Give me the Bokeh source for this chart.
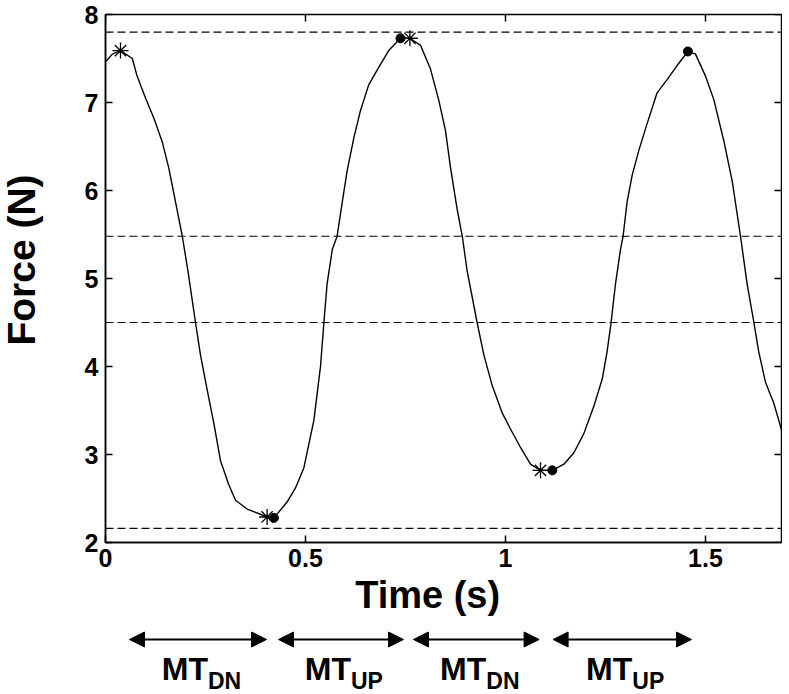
import math
from bokeh.plotting import figure
from bokeh.models import Range1d, Span, Arrow, NormalHead, FixedTicker, Label
from bokeh.layouts import column, row
from bokeh.embed import file_html
from bokeh.resources import INLINE
from bokeh.core.properties import value

# ---- data ----
time_s = [0.0, 0.017, 0.0375, 0.067, 0.079, 0.100, 0.121, 0.142, 0.158, 0.175,
          0.192, 0.206, 0.225, 0.2375, 0.254, 0.271, 0.2875, 0.308, 0.325, 0.354,
          0.404, 0.421, 0.454, 0.475, 0.496, 0.521, 0.5375, 0.546, 0.554, 0.567,
          0.579, 0.592, 0.604, 0.621, 0.6375, 0.658, 0.683, 0.708, 0.7375, 0.761,
          0.7875, 0.8125, 0.833, 0.85, 0.8625, 0.879, 0.892, 0.904, 0.929, 0.946,
          0.967, 0.992, 1.0125, 1.0375, 1.0625, 1.0875, 1.117, 1.146, 1.171, 1.196,
          1.221, 1.242, 1.254, 1.264, 1.275, 1.2875, 1.294, 1.304, 1.317, 1.333,
          1.354, 1.379, 1.404, 1.429, 1.456, 1.475, 1.5, 1.521, 1.546, 1.567,
          1.5875, 1.604, 1.621, 1.633, 1.65, 1.671, 1.69]
force_n = [7.46, 7.55, 7.59, 7.50, 7.30, 7.05, 6.82, 6.55, 6.26, 5.87,
           5.48, 5.09, 4.50, 4.13, 3.74, 3.35, 2.93, 2.66, 2.48, 2.38,
           2.29, 2.28, 2.46, 2.62, 2.85, 3.39, 4.00, 4.50, 4.94, 5.33,
           5.48, 5.87, 6.22, 6.60, 6.91, 7.20, 7.40, 7.59, 7.73, 7.73,
           7.65, 7.38, 7.03, 6.68, 6.26, 5.79, 5.48, 5.09, 4.50, 4.13,
           3.78, 3.47, 3.29, 3.08, 2.89, 2.82, 2.82, 2.89, 3.02, 3.24,
           3.55, 3.86, 4.17, 4.50, 4.94, 5.33, 5.48, 5.87, 6.18, 6.45,
           6.76, 7.11, 7.26, 7.42, 7.58, 7.55, 7.30, 7.03, 6.56, 6.10,
           5.48, 4.94, 4.50, 4.17, 3.82, 3.58, 3.28]

star_t = [0.0375, 0.404, 0.761, 1.0875]
star_f = [7.59, 2.29, 7.73, 2.82]
dot_t = [0.421, 0.7375, 1.117, 1.456]
dot_f = [2.28, 7.73, 2.82, 7.58]

ref_levels = [7.8, 5.48, 4.5, 2.16]

x_ticks = [0, 0.5, 1, 1.5]
x_tick_labels = ["0", "0.5", "1", "1.5"]
y_ticks = [2, 3, 4, 5, 6, 7, 8]

phase_start = [0.06, 0.4325, 0.77, 1.119]
phase_end = [0.4025, 0.745, 1.084, 1.465]
phase_main = ["MT", "MT", "MT", "MT"]
phase_sub = ["DN", "UP", "DN", "UP"]

FONT = "Liberation Sans"
NB = "\u00a0"
LW = 60          # width of the strip holding the y-axis title
W = 782
X0, X1 = 0, 1.69
Y0, Y1 = 2, 8

# ---- y-axis title strip ----
lt = figure(width=LW, height=622, x_range=Range1d(0, 1), y_range=Range1d(0, 1),
            output_backend="svg", toolbar_location=None,
            x_axis_location=None, y_axis_location=None,
            min_border_left=0, min_border_right=0, min_border_top=0, min_border_bottom=0)
lt.grid.visible = False
lt.outline_line_color = None
lt.add_layout(Label(x=0.347, y=0.535, text="Force (N)", angle=math.pi / 2,
                    text_align="center", text_baseline="alphabetic",
                    text_font=FONT, text_font_size="39px", text_font_style="bold",
                    text_color="black"))

# ---- main plot ----
p = figure(width=W - LW, height=622, x_range=Range1d(X0, X1), y_range=Range1d(Y0, Y1),
           output_backend="svg", toolbar_location=None,
           min_border_left=105 - LW, min_border_right=1, min_border_top=14, min_border_bottom=80)
p.background_fill_color = "white"
p.border_fill_color = "white"
p.grid.visible = False
p.outline_line_color = "black"
p.outline_line_width = 1.5

p.xaxis.ticker = FixedTicker(ticks=x_ticks)
p.xaxis.major_label_overrides = dict(zip(x_ticks, x_tick_labels))
p.yaxis.ticker = FixedTicker(ticks=y_ticks)
p.xaxis.axis_label = "Time (s)" + NB * 3
for ax in (p.xaxis[0], p.yaxis[0]):
    ax.major_tick_in = 7
    ax.major_tick_out = 0
    ax.minor_tick_line_color = None
    ax.axis_line_width = 1.5
    ax.major_tick_line_width = 1.5
    ax.major_label_text_font = FONT
    ax.major_label_text_font_size = "25px"
    ax.major_label_text_font_style = "bold"
    ax.major_label_text_color = "black"
    ax.axis_label_text_font = FONT
    ax.axis_label_text_font_style = "bold"
    ax.axis_label_text_color = "black"
p.yaxis.major_label_standoff = 7
p.xaxis.major_label_standoff = 6
p.xaxis.axis_label_text_font_size = "38px"
p.xaxis.axis_label_standoff = 4

# inward ticks on the right and top edges (half of each dash is clipped by the frame)
p.scatter([X1] * len(y_ticks), y_ticks, marker="dash", size=14, line_color="black", line_width=1.5)
p.scatter(x_ticks, [Y1] * len(x_ticks), marker="dash", angle=1.5708, size=14,
          line_color="black", line_width=1.5)

for lv in ref_levels:
    p.add_layout(Span(location=lv, dimension="width", line_color="black",
                      line_width=1.2, line_dash="8 4"))

p.line(time_s, force_n, line_color="black", line_width=1.4)
p.scatter(star_t, star_f, marker="asterisk", size=16, line_color="black", line_width=1.3)
p.scatter(dot_t, dot_f, marker="circle", size=9, fill_color="black", line_color="black")

# ---- phase arrows below ----
b = figure(width=W, height=72, x_range=p.x_range, y_range=Range1d(0, 1),
           output_backend="svg", toolbar_location=None,
           x_axis_location=None, y_axis_location=None,
           min_border_left=105, min_border_right=1, min_border_top=0, min_border_bottom=0)
b.grid.visible = False
b.outline_line_color = None
b.background_fill_color = "white"
b.border_fill_color = "white"

ARROW_Y = 0.764
for s, e in zip(phase_start, phase_end):
    b.add_layout(Arrow(x_start=s, y_start=ARROW_Y, x_end=e, y_end=ARROW_Y, line_width=2,
                       line_color="black",
                       start=NormalHead(size=15, fill_color="black", line_color="black"),
                       end=NormalHead(size=15, fill_color="black", line_color="black")))

mids = [(s + e) / 2 for s, e in zip(phase_start, phase_end)]
b.text(x=mids, y=[0.36] * len(mids), text=phase_main, text_align="right",
       text_baseline="alphabetic", x_offset=10, text_font=value(FONT),
       text_font_size="32px", text_font_style="bold", text_color="black")
b.text(x=mids, y=[0.185] * len(mids), text=phase_sub, text_align="left",
       text_baseline="alphabetic", x_offset=10, text_font=value(FONT),
       text_font_size="23px", text_font_style="bold", text_color="black")

layout = column(row(lt, p), b)
open("out.html", "w").write(file_html(layout, INLINE))
